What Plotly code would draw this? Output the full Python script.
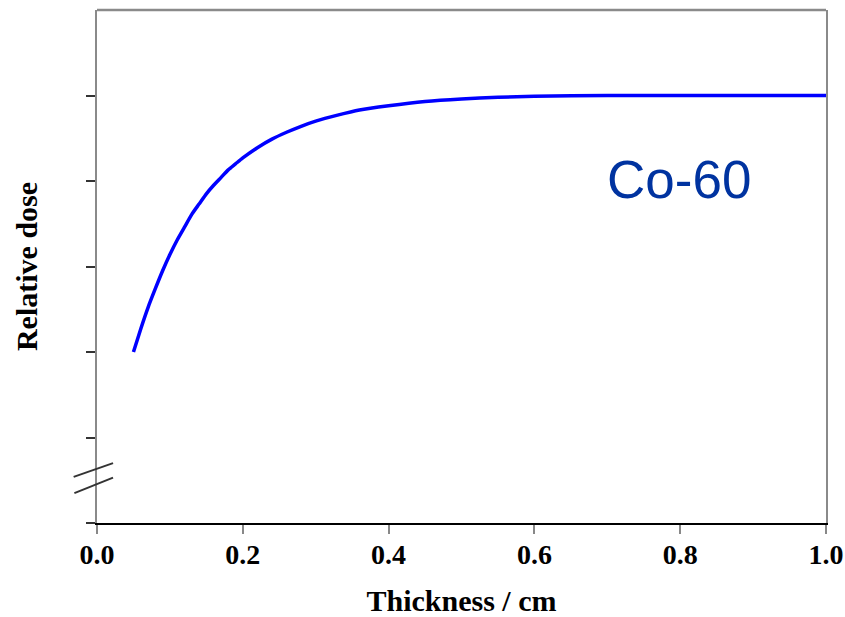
import plotly.graph_objects as go

# Relative dose vs. absorber thickness (Co-60 build-up curve)
thickness_cm = [0.05, 0.06, 0.07, 0.08, 0.09, 0.10, 0.11, 0.12, 0.13, 0.14,
                0.15, 0.16, 0.17, 0.18, 0.19, 0.20, 0.22, 0.24, 0.26, 0.28,
                0.30, 0.33, 0.36, 0.40, 0.45, 0.50, 0.55, 0.60, 0.70, 0.80,
                0.90, 1.00]
relative_dose = [2.00, 2.27, 2.52, 2.74, 2.95, 3.14, 3.31, 3.46, 3.61, 3.73,
                 3.85, 3.95, 4.04, 4.13, 4.20, 4.27, 4.39, 4.49, 4.57, 4.64,
                 4.70, 4.77, 4.83, 4.88, 4.93, 4.96, 4.98, 4.99, 5.00, 5.00,
                 5.00, 5.00]

x_ticks = [0.0, 0.2, 0.4, 0.6, 0.8, 1.0]
x_tick_labels = ["0.0", "0.2", "0.4", "0.6", "0.8", "1.0"]
y_ticks = [0, 1, 2, 3, 4, 5]

serif_family = "Liberation Serif, Times New Roman, serif"
tick_font = dict(family=serif_family, size=28, color="black", weight="bold")
title_font = dict(family=serif_family, size=30, color="black", weight="bold")

fig = go.Figure()
fig.add_trace(go.Scatter(
    x=thickness_cm, y=relative_dose, mode="lines",
    line=dict(color="#0000ff", width=3.5, shape="spline", smoothing=0.6),
    showlegend=False, hoverinfo="skip",
))

fig.update_layout(
    width=845, height=617,
    margin=dict(l=97, r=19, t=10, b=94),
    paper_bgcolor="white", plot_bgcolor="white",
    xaxis=dict(
        range=[0, 1.0], tickvals=x_ticks, ticktext=x_tick_labels,
        showgrid=False, zeroline=False, automargin=False,
        showline=True, linecolor="black", linewidth=1.5,
        ticks="outside", ticklen=9, tickcolor="#888888", tickwidth=1.5,
        tickfont=tick_font, ticklabelstandoff=-3,
        title=dict(text="Thickness / cm", font=title_font, standoff=22),
    ),
    yaxis=dict(
        range=[0, 6], tickvals=y_ticks, showticklabels=False,
        showgrid=False, zeroline=False, automargin=False,
        showline=True, linecolor="#8a8a8a", linewidth=2, mirror=True,
        ticks="outside", ticklen=9, tickcolor="#333333", tickwidth=1.5,
        title=dict(text="Relative dose", font=title_font, standoff=40),
    ),
    shapes=[
        # top border of the frame
        dict(type="line", xref="x domain", yref="y domain",
             x0=0, x1=1, y0=1, y1=1,
             line=dict(color="#8a8a8a", width=2.5)),
        # axis break marks
        dict(type="line", xref="x domain", yref="y",
             x0=-0.032, x1=0.022, y0=0.54, y1=0.70,
             line=dict(color="#333333", width=2)),
        dict(type="line", xref="x domain", yref="y",
             x0=-0.031, x1=0.022, y0=0.35, y1=0.53,
             line=dict(color="#333333", width=2)),
    ],
    annotations=[
        dict(x=0.798, y=4.02, xref="x", yref="y", text="Co-60",
             showarrow=False, xanchor="center", yanchor="middle",
             font=dict(family="Liberation Sans, Arial, sans-serif",
                       size=53, color="#0033a0", weight="normal")),
    ],
)

fig.write_html("out.html")
